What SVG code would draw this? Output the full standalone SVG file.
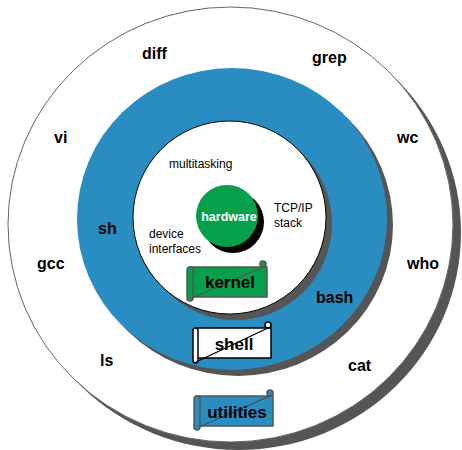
<svg xmlns="http://www.w3.org/2000/svg" width="462" height="450" viewBox="0 0 462 450">
<style>
.b{font-family:"Liberation Sans",Arial,sans-serif;font-weight:bold;font-size:16px;fill:#000}
.s{font-family:"Liberation Sans",Arial,sans-serif;font-size:12px;fill:#000}
.lb{font-family:"Liberation Sans",Arial,sans-serif;font-weight:bold;font-size:17px;fill:#000}
.edge{stroke:#555;stroke-width:1.5}
.diag{stroke:#444;stroke-width:1;fill:none}
</style>
<rect width="462" height="450" fill="#fff"/>
<g id="utilities-ring">
<ellipse cx="238.5" cy="232.5" rx="222.5" ry="217.5" fill="#555"/>
<ellipse cx="230.5" cy="224.5" rx="222.5" ry="217.5" fill="#fff" stroke="#666" stroke-width="1"/>
</g>
<g id="shell-ring">
<ellipse cx="238" cy="225" rx="155" ry="151" fill="#555"/>
<ellipse cx="232" cy="219" rx="155" ry="151" fill="#2a8dc2"/>
</g>
<g id="kernel-ring">
<circle cx="235.5" cy="223.5" r="96.5" fill="#555"/>
<circle cx="229.5" cy="217.5" r="96.5" fill="#fff" stroke="#000" stroke-width="1"/>
</g>
<g id="hardware">
<circle cx="233" cy="222" r="31" fill="#000"/>
<circle cx="227" cy="216" r="31" fill="#06a04c"/>
<text x="229" y="221" text-anchor="middle" style="font-family:'Liberation Sans',Arial,sans-serif;font-weight:bold;font-size:12.5px;fill:#fff">hardware</text>
</g>
<g id="kernel-texts">
<text class="s" x="169" y="168">multitasking</text>
<text class="s" x="274" y="212">TCP/IP</text>
<text class="s" x="274" y="227">stack</text>
<text class="s" x="149" y="238">device</text>
<text class="s" x="149" y="253">interfaces</text>
</g>
<g id="kernel-label" transform="translate(187,267)">
<rect class="edge" x="3" y="0" width="77" height="30" fill="#06a04c"/>
<rect class="edge" x="0" y="0" width="6" height="34" rx="3" fill="#06a04c"/>
<circle class="edge" cx="76" cy="-3" r="3" fill="#06a04c"/>
<line x1="5" y1="31" x2="76" y2="0" stroke="#7a3d3d" stroke-width="1"/>
<text class="lb" x="43" y="21" text-anchor="middle">kernel</text>
</g>
<g id="shell-texts">
<text class="b" x="98" y="234">sh</text>
<text class="b" x="316" y="303">bash</text>
</g>
<g id="shell-label" transform="translate(193,328)">
<rect x="3" y="0" width="75" height="30" fill="#fff" stroke="#000" stroke-width="1.5"/>
<rect x="0" y="0" width="5" height="35" rx="2.5" fill="#fff" stroke="#000" stroke-width="1.5"/>
<circle cx="75" cy="-3" r="3" fill="#fff" stroke="#000" stroke-width="1.5"/>
<line x1="3" y1="34" x2="75" y2="0" stroke="#000" stroke-width="1.3"/>
<text class="lb" x="41" y="22" text-anchor="middle">shell</text>
</g>
<g id="utility-texts">
<text class="b" x="142" y="59">diff</text>
<text class="b" x="312" y="63">grep</text>
<text class="b" x="54" y="143">vi</text>
<text class="b" x="397" y="143">wc</text>
<text class="b" x="37" y="269">gcc</text>
<text class="b" x="407" y="269">who</text>
<text class="b" x="100" y="366">ls</text>
<text class="b" x="348" y="371">cat</text>
</g>
<g id="utilities-label" transform="translate(194,396)">
<rect class="edge" x="3" y="0" width="76" height="30" fill="#2a8dc2"/>
<rect class="edge" x="0" y="0" width="6" height="34" rx="3" fill="#2a8dc2"/>
<circle class="edge" cx="76" cy="-3" r="3" fill="#2a8dc2"/>
<line class="diag" x1="5" y1="31" x2="76" y2="0"/>
<text class="lb" x="43" y="22" text-anchor="middle">utilities</text>
</g>
</svg>
